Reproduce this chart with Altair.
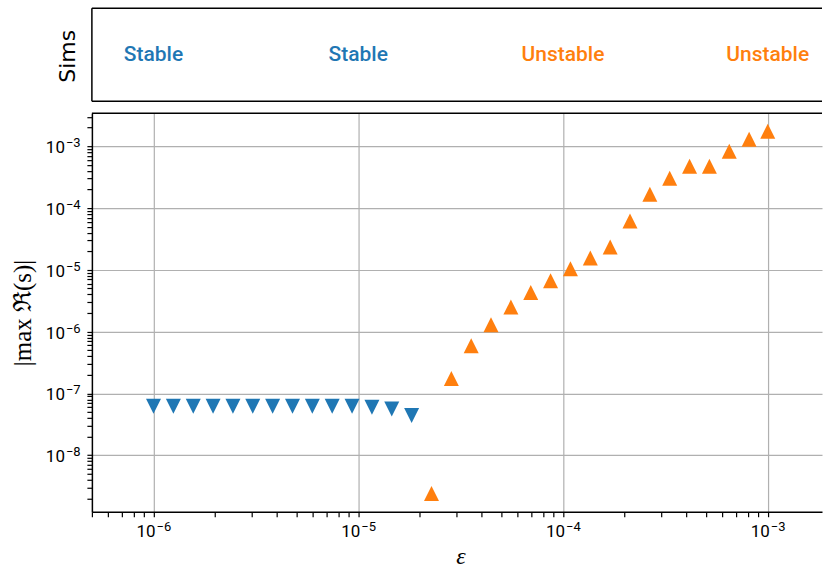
import altair as alt
import pandas as pd

# ---- data ----
eps = [1.000e-6, 1.250e-6, 1.563e-6, 1.954e-6, 2.442e-6, 3.053e-6, 3.817e-6, 4.772e-6,
       5.966e-6, 7.458e-6, 9.324e-6, 1.166e-5, 1.457e-5, 1.822e-5, 2.278e-5, 2.848e-5,
       3.560e-5, 4.450e-5, 5.564e-5, 6.955e-5, 8.695e-5, 1.087e-4, 1.359e-4, 1.699e-4,
       2.124e-4, 2.655e-4, 3.319e-4, 4.149e-4, 5.187e-4, 6.484e-4, 8.106e-4, 1.000e-3]
growth = [6.2e-8, 6.2e-8, 6.2e-8, 6.2e-8, 6.2e-8, 6.2e-8, 6.2e-8, 6.2e-8,
          6.2e-8, 6.2e-8, 6.2e-8, 6.0e-8, 5.6e-8, 4.4e-8,
          2.4e-9, 1.75e-7, 5.9e-7, 1.3e-6, 2.5e-6, 4.3e-6, 6.65e-6, 1.04e-5,
          1.56e-5, 2.35e-5, 6.2e-5, 1.68e-4, 3.05e-4, 4.75e-4, 4.75e-4, 8.3e-4,
          1.3e-3, 1.75e-3]
status = ["Stable"] * 14 + ["Unstable"] * 18

sims_eps = [1e-6, 1e-5, 1e-4, 1e-3]
sims_label = ["Stable", "Stable", "Unstable", "Unstable"]

# tick labels (base "10" with a raised exponent)
x_major = [1e-6, 1e-5, 1e-4, 1e-3]
x_major_exp = ["−6", "−5", "−4", "−3"]
y_major = [1e-8, 1e-7, 1e-6, 1e-5, 1e-4, 1e-3]
y_major_exp = ["−8", "−7", "−6", "−5", "−4", "−3"]

X_DOMAIN = [5e-7, 1.84e-3]
Y_DOMAIN = [1.22e-9, 3.43e-3]

# ---- layout (pixels) ----
LEFT = 92
TOP = 8
W = 731
H_TOP = 93
GAP = 12
H_MAIN = 399
BOTTOM = 61
BASE_FS = 17
EXP_FS = 13

def log_ticks(lo, hi, k0, k1):
    vals = []
    for k in range(k0, k1 + 1):
        for m in range(1, 10):
            v = float(f"{m}e{k}")
            if lo * 0.999 <= v <= hi:
                vals.append(v)
    return vals

x_ticks = log_ticks(X_DOMAIN[0], X_DOMAIN[1], -7, -3)
y_ticks = log_ticks(Y_DOMAIN[0], Y_DOMAIN[1], -9, -3)

EXP = "round(log(datum.value)/LN10)"
DEC = f"abs(log(datum.value)/LN10 - {EXP}) < 1e-6"
grid_cond = {"condition": {"test": DEC, "value": 1}, "value": 0}

df = pd.DataFrame({"eps": eps, "growth": growth, "status": status})
sims_df = pd.DataFrame({"eps": sims_eps, "label": sims_label})
xlab_df = pd.DataFrame({"eps": x_major, "base": ["10"] * len(x_major), "exp": x_major_exp})
ylab_df = pd.DataFrame({"growth": y_major, "base": ["10"] * len(y_major), "exp": y_major_exp})
one = pd.DataFrame({"a": [0]})

x_scale = alt.Scale(type="log", domain=X_DOMAIN, nice=False)
y_scale = alt.Scale(type="log", domain=Y_DOMAIN, nice=False)
color_scale = alt.Scale(domain=["Stable", "Unstable"], range=["#1f77b4", "#ff7f0e"])
shape_scale = alt.Scale(domain=["Stable", "Unstable"],
                        range=["M0,1L-1,-1L1,-1Z", "M0,-1L-1,1L1,1Z"])

def rule(x, y, x2=None, y2=None):
    enc = dict(x=alt.value(x), y=alt.value(y))
    if x2 is not None:
        enc["x2"] = alt.value(x2)
    if y2 is not None:
        enc["y2"] = alt.value(y2)
    return alt.Chart(one).mark_rule(color="black", strokeWidth=1.5).encode(**enc)

def pin(x, x2, y, y2):
    # invisible rectangle that fixes the overall page bounds
    return alt.Chart(one).mark_rect(opacity=0, color="white").encode(
        x=alt.value(x), x2=alt.value(x2), y=alt.value(y), y2=alt.value(y2))

# ---- top panel ----
sims_text = alt.Chart(sims_df).mark_text(
    font="Roboto", fontSize=21, fontWeight=500, baseline="alphabetic", align="center"
).encode(
    x=alt.X("eps:Q", scale=x_scale, axis=None),
    y=alt.value(53),
    text="label:N",
    color=alt.Color("label:N", scale=color_scale, legend=None),
)

sims_title = alt.Chart(one).mark_text(
    font="DejaVu Sans", fontSize=22, angle=270, align="center", baseline="alphabetic",
    color="black"
).encode(x=alt.value(-17), y=alt.value(48), text=alt.value("Sims"))

top = alt.layer(
    pin(-LEFT, W, -TOP, H_TOP),
    sims_text, sims_title,
    rule(0, 0, x2=W), rule(0, H_TOP, x2=W), rule(0, 0, y2=H_TOP),
).properties(width=W, height=H_TOP)

# ---- main panel ----
x_axis = alt.Axis(
    values=x_ticks, labels=False,
    grid=True, gridOpacity=grid_cond, gridColor="#b0b0b0", gridWidth=1.2,
    tickSize=5, tickColor="black", tickWidth=1.2,
    domainColor="black", domainWidth=1.5,
    title="ε", titleFont="Liberation Serif", titleFontStyle="italic",
    titleFontWeight="normal", titleFontSize=24, titleColor="black",
    titleX=369, titleY=45, titleBaseline="middle", titleAlign="center",
)
y_axis = alt.Axis(
    values=y_ticks, labels=False,
    grid=True, gridOpacity=grid_cond, gridColor="#b0b0b0", gridWidth=1.2,
    tickSize=5, tickColor="black", tickWidth=1.2,
    domainColor="black", domainWidth=1.5,
    title="|max ℜ(s)|", titleFont="Liberation Serif", titleFontWeight="normal",
    titleFontSize=25, titleColor="black",
    titleX=-69, titleY=H_MAIN / 2, titleBaseline="middle", titleAlign="center",
    titleAngle=270,
)

points = alt.Chart(df).mark_point(filled=True, size=225, opacity=1).encode(
    x=alt.X("eps:Q", scale=x_scale, axis=x_axis),
    y=alt.Y("growth:Q", scale=y_scale, axis=y_axis),
    color=alt.Color("status:N", scale=color_scale, legend=None),
    shape=alt.Shape("status:N", scale=shape_scale, legend=None),
)

# x tick labels
xlab_base = alt.Chart(xlab_df).mark_text(
    font="Roboto", fontSize=BASE_FS, align="right", baseline="alphabetic", dx=2, color="black"
).encode(x=alt.X("eps:Q", scale=x_scale), y=alt.value(H_MAIN + 25), text="base:N")
xlab_exp = alt.Chart(xlab_df).mark_text(
    font="Roboto", fontSize=EXP_FS, align="left", baseline="alphabetic", dx=3, color="black"
).encode(x=alt.X("eps:Q", scale=x_scale), y=alt.value(H_MAIN + 19.5), text="exp:N")

# y tick labels
ylab_base = alt.Chart(ylab_df).mark_text(
    font="Roboto", fontSize=BASE_FS, align="right", baseline="alphabetic", dy=7, color="black"
).encode(x=alt.value(-27), y=alt.Y("growth:Q", scale=y_scale), text="base:N")
ylab_exp = alt.Chart(ylab_df).mark_text(
    font="Roboto", fontSize=EXP_FS, align="left", baseline="alphabetic", dy=1, color="black"
).encode(x=alt.value(-26), y=alt.Y("growth:Q", scale=y_scale), text="exp:N")

main = alt.layer(
    pin(-LEFT, W, 0, H_MAIN + BOTTOM), points, xlab_base, xlab_exp, ylab_base, ylab_exp,
    rule(0, 0, x2=W)
).properties(width=W, height=H_MAIN)

chart = alt.vconcat(top, main, spacing=GAP, bounds="flush").properties(
    padding=0,
    background="white",
).configure_view(stroke=None)

chart.save("out.html", embed_options={"renderer": "svg", "actions": False})
